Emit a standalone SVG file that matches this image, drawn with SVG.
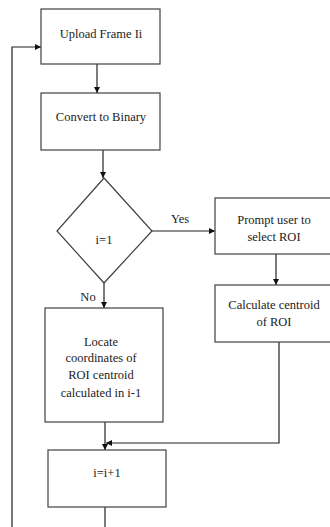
<svg xmlns="http://www.w3.org/2000/svg" width="330" height="527" viewBox="0 0 330 527">
<style>
.box{fill:#fff;stroke:#404040;stroke-width:1.2}
.ln{fill:none;stroke:#222;stroke-width:1.2}
text{font-family:"Liberation Serif","Times New Roman",serif;font-size:12.5px;fill:#222;text-anchor:middle}
</style>
<defs>
<marker id="ah" viewBox="0 0 10 10" refX="10" refY="5" markerWidth="6" markerHeight="6" markerUnits="userSpaceOnUse" orient="auto">
<path d="M0,0 L10,5 L0,10 z" fill="#111"/>
</marker>
</defs>
<rect width="330" height="527" fill="#fff"/>
<g id="connectors">
<path class="ln" d="M97,64 V93" marker-end="url(#ah)"/>
<path class="ln" d="M103,150 V178" marker-end="url(#ah)"/>
<path class="ln" d="M152,231 H215" marker-end="url(#ah)"/>
<path class="ln" d="M104,283 V308" marker-end="url(#ah)"/>
<path class="ln" d="M276,254 V285" marker-end="url(#ah)"/>
<path class="ln" d="M105,422 V450" marker-end="url(#ah)"/>
<path class="ln" d="M279,342 V443 H106" marker-end="url(#ah)"/>
<path class="ln" d="M105,507 V527"/>
<path class="ln" d="M12,527 V47 H41" marker-end="url(#ah)"/>
<text x="180" y="223">Yes</text>
<text x="88" y="301">No</text>
</g>
<g id="upload">
<rect class="box" x="41" y="9" width="119" height="55"/>
<text x="101" y="38">Upload Frame Ii</text>
</g>
<g id="binary">
<rect class="box" x="41" y="93" width="119" height="57"/>
<text x="101" y="121">Convert to Binary</text>
</g>
<g id="decision">
<polygon class="box" points="104,178 152,231 104,283 57,231"/>
<text x="104" y="244">i=1</text>
</g>
<g id="prompt">
<rect class="box" x="215" y="198" width="125" height="56"/>
<text x="274" y="224">Prompt user to</text>
<text x="274" y="241">select ROI</text>
</g>
<g id="centroid">
<rect class="box" x="215" y="285" width="125" height="57"/>
<text x="274" y="309">Calculate centroid</text>
<text x="274" y="326">of ROI</text>
</g>
<g id="locate">
<rect class="box" x="45" y="308" width="118" height="114"/>
<text x="101" y="346">Locate</text>
<text x="101" y="362">coordinates of</text>
<text x="101" y="379">ROI centroid</text>
<text x="101" y="397">calculated in i-1</text>
</g>
<g id="increment">
<rect class="box" x="48" y="450" width="118" height="57"/>
<text x="107" y="477">i=i+1</text>
</g>
</svg>
